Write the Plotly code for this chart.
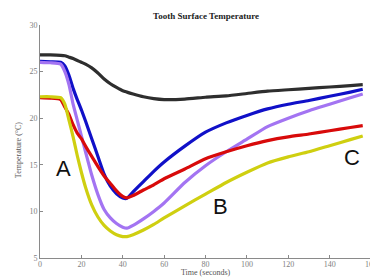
import plotly.graph_objects as go

time_s = [0, 5, 10, 12, 14, 16, 18, 20, 22, 25, 28, 31, 34, 37, 40, 42, 45, 50, 55, 60, 70, 80, 90, 100, 110, 120, 130, 140, 150, 156]

black_t = [26.8, 26.8, 26.75, 26.7, 26.55, 26.4, 26.2, 26.0, 25.8, 25.4, 24.85, 24.2, 23.7, 23.3, 22.95, 22.8, 22.6, 22.3, 22.1, 22.0, 22.05, 22.25, 22.4, 22.65, 22.9, 23.05, 23.2, 23.35, 23.5, 23.6]
blue_t = [26.1, 26.05, 26.0, 25.6, 24.6, 23.2, 22.0, 20.9, 19.7, 17.8, 15.9, 14.0, 12.7, 11.9, 11.45, 11.4, 12.1, 13.2, 14.3, 15.3, 17.0, 18.5, 19.5, 20.3, 21.0, 21.5, 21.9, 22.35, 22.8, 23.1]
purple_t = [26.0, 25.95, 25.8, 25.0, 23.6, 21.5, 19.8, 18.1, 16.4, 13.9, 11.8, 10.2, 9.3, 8.7, 8.3, 8.2, 8.5, 9.2, 10.0, 10.9, 13.1, 14.9, 16.4, 17.75, 19.1, 20.0, 20.8, 21.5, 22.2, 22.6]
red_t = [22.2, 22.15, 22.0, 21.2, 20.4, 19.3, 18.4, 17.8, 17.0, 15.9, 14.8, 13.8, 13.0, 12.2, 11.6, 11.45, 11.7, 12.3, 12.85, 13.5, 14.55, 15.65, 16.4, 17.05, 17.6, 18.0, 18.3, 18.65, 19.0, 19.2]
yellow_t = [22.3, 22.3, 22.2, 21.5, 19.8, 18.0, 16.0, 14.2, 12.6, 10.7, 9.4, 8.5, 7.9, 7.5, 7.3, 7.3, 7.5, 8.0, 8.6, 9.3, 10.6, 11.85, 13.1, 14.2, 15.2, 15.85, 16.4, 17.05, 17.7, 18.1]

series = [
    ("black", black_t, "#2e2e2e"),
    ("blue", blue_t, "#1010c8"),
    ("purple", purple_t, "#a374f2"),
    ("red", red_t, "#d80a0a"),
    ("yellow", yellow_t, "#cfcf10"),
]

label_text = ["A", "B", "C"]
label_x = [11.3, 87.3, 150.9]
label_y = [14.6, 10.5, 15.8]

x_ticks = [0, 20, 40, 60, 80, 100, 120, 140, 160]
y_ticks = [5, 10, 15, 20, 25, 30]

fig = go.Figure()
for name, vals, col in series:
    fig.add_trace(go.Scatter(x=time_s, y=vals, mode="lines", name=name,
                             line=dict(color=col, width=3.2, shape="spline", smoothing=0.5)))

for t, x, y in zip(label_text, label_x, label_y):
    fig.add_annotation(x=x, y=y, text=t, showarrow=False,
                       font=dict(family="Liberation Sans, Arial, sans-serif", size=22, color="#111"))

serif = "Liberation Serif, serif"
fig.add_annotation(xref="paper", yref="paper", x=0.5, y=1.038, text="<b>Tooth Surface Temperature</b>",
                   showarrow=False, xanchor="center", yanchor="middle",
                   font=dict(family=serif, size=9, color="#222"))
fig.add_annotation(xref="paper", yref="paper", x=0.5, y=-0.063, text="Time (seconds)",
                   showarrow=False, xanchor="center", yanchor="middle",
                   font=dict(family=serif, size=8, color="#555"))
fig.add_annotation(xref="paper", yref="paper", x=-0.066, y=0.4635, text="Temperature (°C)",
                   showarrow=False, xanchor="center", yanchor="middle", textangle=-90,
                   font=dict(family=serif, size=8, color="#555"))

axis_common = dict(showline=True, linecolor="#8a8a8a", linewidth=1, ticks="inside", ticklen=3,
                   tickcolor="#8a8a8a", showgrid=False, zeroline=False, automargin=False,
                   tickfont=dict(family=serif, size=8, color="#808080"))

# the page body has an 8px default margin, so the figure is 370x270 to fill the 378x278 window
fig.update_layout(
    width=370, height=270,
    margin=dict(l=32, r=7, t=17, b=20, autoexpand=False),
    paper_bgcolor="white", plot_bgcolor="white",
    showlegend=False,
    xaxis=dict(range=[0, 160], tickvals=x_ticks, ticklabelstandoff=-2, **axis_common),
    yaxis=dict(range=[5, 30], tickvals=y_ticks, **axis_common),
)

fig.write_html("out.html")
